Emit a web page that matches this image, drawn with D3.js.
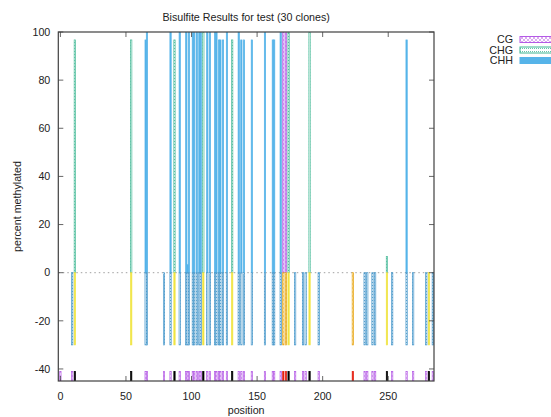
<!DOCTYPE html>
<html><head><meta charset="utf-8">
<script src="https://cdn.jsdelivr.net/npm/d3@7"></script>
<style>body{margin:0;background:#fff;} svg{display:block;font-family:"Liberation Sans",Arial,sans-serif;}</style>
</head><body><svg id="c" width="551" height="417"></svg>
<script>
// ---- data ----
const contexts = ["CG", "CHG", "CHH"];
const cgPos  = [170, 172, 223];
const cgPct  = [100, 100, 0];
const chgPos = [11, 54, 87, 109, 131, 174, 190, 249, 281];
const chgPct = [96.7, 96.7, 96.7, 100, 96.7, 100, 100, 6.7, 0];
const chhPos = [9, 65, 66, 79, 84, 91, 96, 97, 98, 101, 102, 104, 106, 107, 112, 114, 118, 119, 121, 122, 124, 127,
                136, 138, 140, 146, 156, 162, 163, 168, 179, 185, 187, 197, 232, 234, 238, 240, 253, 264, 269, 279, 284];
const chhPct = [0, 96.7, 100, 0, 100, 100, 100, 3.3, 100, 100, 100, 100, 100, 100, 100, 100, 100, 100, 96.7, 96.7, 96.7, 100,
                100, 96.7, 96.7, 96.7, 100, 96.7, 96.7, 100, 0, 0, 0, 0, 0, 0, 0, 0, 0, 96.7, 0, 0, 0];
const unassayedChhPos = [0];
const cloneCount = 30;
const xTicks = [0, 50, 100, 150, 200, 250];
const yTicks = [-40, -20, 0, 20, 40, 60, 80, 100];
const titleText = "Bisulfite Results for test (" + cloneCount + " clones)";

// ---- layout ----
const L = 58.3, R = 434, T = 32, B = 381;
const svg = d3.select("#c");
const x = d3.scaleLinear().domain([-1.6, 284.9]).range([L, R]);
const y = d3.scaleLinear().domain([-45, 100]).range([B, T]);
const FS = 10.7;

const defs = svg.append("defs");
function dotPattern(id, color, op) {
  const p = defs.append("pattern").attr("id", id).attr("patternUnits", "userSpaceOnUse").attr("width", 2).attr("height", 3);
  p.append("rect").attr("width", 2).attr("height", 3).attr("fill", "#fff");
  p.append("rect").attr("width", 1).attr("height", 1).attr("fill", color).attr("opacity", op);
}
function hatchPattern(id, color, op) {
  const p = defs.append("pattern").attr("id", id).attr("patternUnits", "userSpaceOnUse").attr("width", 4).attr("height", 4);
  p.append("rect").attr("width", 4).attr("height", 4).attr("fill", "#fff");
  p.append("path").attr("d", "M0,0L4,4M4,0L0,4").attr("stroke", color).attr("stroke-width", 0.6).attr("opacity", op);
}
hatchPattern("pCG", "#9400D3", 0.55);
dotPattern("pCHG", "#009E73", 0.6);
dotPattern("pCHHneg", "#0072B2", 0.6);
hatchPattern("pCGneg", "#E69F00", 0.6);
hatchPattern("pMark", "#9400D3", 0.5);
defs.append("clipPath").attr("id", "clip").append("rect").attr("x", L).attr("y", T).attr("width", R - L).attr("height", B - T);

const styles = {
  CG:  {pos: {fill: "url(#pCG)", stroke: "#b45ae6"}, neg: {fill: "url(#pCGneg)", stroke: "#E69F00"}, mark: {fill: "#E51E10", stroke: "#E51E10"}},
  CHG: {pos: {fill: "url(#pCHG)", stroke: "#3fb793"}, neg: {fill: "#F0E442", stroke: "#F0E442"}, mark: {fill: "#000", stroke: "#000"}},
  CHH: {pos: {fill: "#56B4E9", stroke: "#56B4E9"}, neg: {fill: "url(#pCHHneg)", stroke: "#3d92c8"}, mark: {fill: "url(#pMark)", stroke: "#b45ae6"}}
};
const series = {
  CG:  cgPos.map((p, i) => ({pos: p, pct: cgPct[i]})),
  CHG: chgPos.map((p, i) => ({pos: p, pct: chgPct[i]})),
  CHH: chhPos.map((p, i) => ({pos: p, pct: chhPct[i]}))
};
const bw = x(1) - x(0);

// zero line
svg.append("line").attr("x1", L).attr("x2", R).attr("y1", y(0)).attr("y2", y(0))
  .attr("stroke", "#a0a0a0").attr("stroke-width", 1).attr("stroke-dasharray", "1.5,3");

const g = svg.append("g").attr("clip-path", "url(#clip)");
function bars(data, y0, y1f, st) {
  g.append("g").selectAll("rect").data(data).join("rect")
    .attr("x", d => x(d.pos) - bw / 2).attr("width", bw)
    .attr("y", d => Math.min(y(y0), y(y1f(d))))
    .attr("height", d => Math.abs(y(y1f(d)) - y(y0)))
    .attr("fill", st.fill).attr("stroke", st.stroke).attr("stroke-width", 0.7);
}
contexts.forEach(c => bars(series[c].filter(d => d.pct > 0), 0, d => d.pct, styles[c].pos));
contexts.forEach(c => bars(series[c], 0, d => -cloneCount, styles[c].neg));
const trackLo = -45, trackHi = -41;
contexts.forEach(c => {
  let d = series[c];
  if (c === "CHH") d = d.concat(unassayedChhPos.map(p => ({pos: p, pct: null})));
  bars(d, trackLo, () => trackHi, styles[c].mark);
});

// frame & ticks
const frameCol = "#404040";
yTicks.forEach(t => {
  svg.append("line").attr("x1", L).attr("x2", L + 5).attr("y1", y(t)).attr("y2", y(t)).attr("stroke", frameCol).attr("stroke-width", 0.8);
  svg.append("line").attr("x1", R - 5).attr("x2", R).attr("y1", y(t)).attr("y2", y(t)).attr("stroke", frameCol).attr("stroke-width", 0.8);
  svg.append("text").attr("x", L - 8).attr("y", y(t)).attr("dy", "0.35em").attr("text-anchor", "end")
    .attr("font-size", FS).attr("fill", "#222").text(t);
});
xTicks.forEach(t => {
  svg.append("line").attr("x1", x(t)).attr("x2", x(t)).attr("y1", B).attr("y2", B - 5).attr("stroke", frameCol).attr("stroke-width", 0.8);
  svg.append("line").attr("x1", x(t)).attr("x2", x(t)).attr("y1", T).attr("y2", T + 5).attr("stroke", frameCol).attr("stroke-width", 0.8);
  svg.append("text").attr("x", x(t)).attr("y", B + 15).attr("dy", "0.35em").attr("text-anchor", "middle")
    .attr("font-size", FS).attr("fill", "#222").text(t);
});
svg.append("rect").attr("x", L).attr("y", T).attr("width", R - L).attr("height", B - T)
  .attr("fill", "none").attr("stroke", frameCol).attr("stroke-width", 1.2);

// labels
svg.append("text").attr("x", (L + R) / 2).attr("y", 17).attr("dy", "0.35em").attr("text-anchor", "middle")
  .attr("font-size", FS).attr("fill", "#222").text(titleText);
svg.append("text").attr("x", (L + R) / 2).attr("y", 410).attr("dy", "0.35em").attr("text-anchor", "middle")
  .attr("font-size", FS).attr("fill", "#222").text("position");
svg.append("text").attr("transform", `translate(17,${(T + B) / 2}) rotate(-90)`).attr("dy", "0.35em").attr("text-anchor", "middle")
  .attr("font-size", FS).attr("fill", "#222").text("percent methylated");

// legend
contexts.forEach((c, i) => {
  const cy = 39.5 + i * 10.5;
  svg.append("text").attr("x", 513).attr("y", cy).attr("dy", "0.35em").attr("text-anchor", "end")
    .attr("font-size", FS).attr("fill", "#222").text(c);
  svg.append("rect").attr("x", 520).attr("y", cy - 3).attr("width", 40).attr("height", 6)
    .attr("fill", styles[c].pos.fill).attr("stroke", styles[c].pos.stroke).attr("stroke-width", 1);
});
</script></body></html>
